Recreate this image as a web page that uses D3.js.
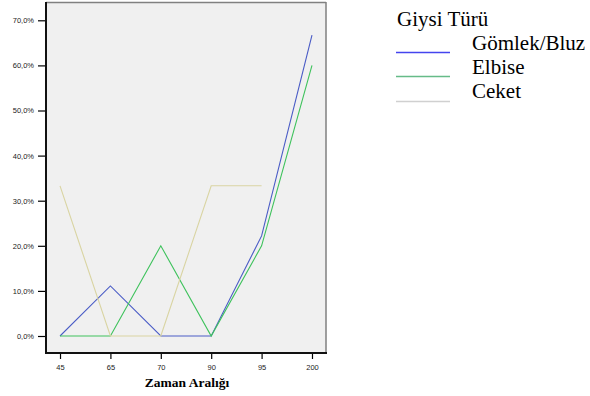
<!DOCTYPE html>
<html><head><meta charset="utf-8">
<script src="https://cdn.jsdelivr.net/npm/d3@7"></script>
<style>body{margin:0;background:#fff;}svg{display:block;}</style>
</head><body>
<svg id="c" width="590" height="396"></svg>
<script>
const categories = ["45","65","70","90","95","200"];
const gomlekBluz = [0, 11.1, 0, 0, 22.2, 66.7];
const elbise = [0, 0, 20, 0, 20, 60];
const ceket = [33.3, 0, 0, 33.3, 33.3, null];
const yTicks = [0,10,20,30,40,50,60,70];
const seriesNames = ["Gömlek/Bluz","Elbise","Ceket"];
const legendTitle = "Giysi Türü";
const xTitle = "Zaman Aralığı";

const series = [
  {name: seriesNames[0], values: gomlekBluz, color: "#4a5cc6", legend: "#4444ee"},
  {name: seriesNames[1], values: elbise, color: "#3ec25c", legend: "#66bb88"},
  {name: seriesNames[2], values: ceket, color: "#d9d4a2", legend: "#d0d0d0"}
];

const svg = d3.select("#c");
const L = 46, R = 326, T = 2, B = 353;
const x = d3.scalePoint().domain(categories).range([L, R]).padding(0.278);
const y = d3.scaleLinear().domain([0, 10]).range([336, 290.9]);

svg.append("rect").attr("x", L).attr("y", T).attr("width", R - L).attr("height", B - T).attr("fill", "#f0f0f0");
svg.append("path").attr("d", `M${L},${T+0.5}H${R}M${R},${T}V${B}`).attr("stroke", "#808080").attr("stroke-width", 1.5).attr("fill","none");

const line = d3.line().defined(d => d.v != null).x(d => x(d.c)).y(d => y(d.v));
series.forEach(s => {
  svg.append("path")
    .datum(categories.map((c, i) => ({c, v: s.values[i]})))
    .attr("d", line).attr("fill", "none").attr("stroke", s.color).attr("stroke-width", 1.1);
});

const yAxis = d3.axisLeft(y).tickValues(yTicks).tickSize(8).tickPadding(4)
  .tickFormat(d => d3.format(".1f")(d).replace(".", ",") + "%");
const gy = svg.append("g").attr("transform", `translate(${L},0)`).call(yAxis);
gy.select(".domain").remove();
gy.selectAll("line").attr("stroke", "#000").attr("stroke-width", 1.2);
gy.selectAll("text").attr("font-family", "Liberation Sans, Arial, sans-serif").attr("font-size", 7.5).attr("fill", "#222");

const xAxis = d3.axisBottom(x).tickSize(6).tickPadding(6);
const gx = svg.append("g").attr("transform", `translate(0,${B})`).call(xAxis);
gx.select(".domain").remove();
gx.selectAll("line").attr("stroke", "#000").attr("stroke-width", 1.2);
gx.selectAll("text").attr("font-family", "Liberation Sans, Arial, sans-serif").attr("font-size", 7.5).attr("fill", "#222");

svg.append("path").attr("d", `M${L},${T}V${B}H${R+1}`).attr("stroke", "#111").attr("stroke-width", 2).attr("fill", "none");

svg.append("text").attr("x", 187).attr("y", 387).attr("text-anchor", "middle")
  .attr("font-family", "Liberation Serif, Times New Roman, serif").attr("font-weight", "bold").attr("font-size", 13.5)
  .text(xTitle);

svg.append("text").attr("x", 397).attr("y", 25.5).attr("font-family", "Liberation Serif, Times New Roman, serif")
  .attr("font-size", 21).text(legendTitle);
series.forEach((s, i) => {
  const yy = 49.5 + i * 24;
  svg.append("line").attr("x1", 396).attr("x2", 450).attr("y1", yy + 3 + (i === 2 ? 1 : 0)).attr("y2", yy + 3 + (i === 2 ? 1 : 0))
    .attr("stroke", s.legend).attr("stroke-width", 1.5);
  svg.append("text").attr("x", 472).attr("y", yy).attr("font-family", "Liberation Serif, Times New Roman, serif")
    .attr("font-size", 21).text(s.name);
});
</script>
</body></html>
